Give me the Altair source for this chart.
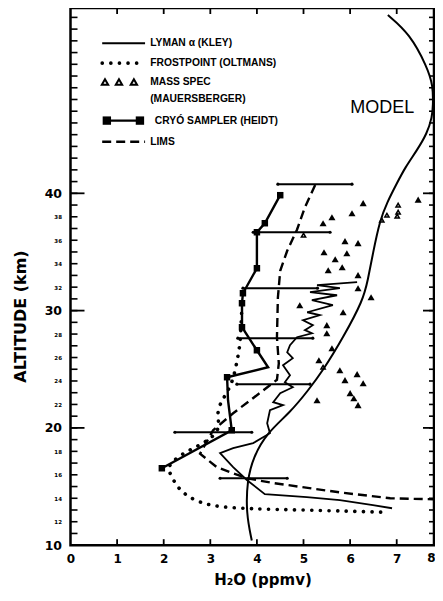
import altair as alt
import pandas as pd

# ------------------------------------------------------------------ data
model_alt = [55.2, 53.6, 50.8, 49.2, 47.5, 46.5, 45.1, 43.7, 42.2, 40.9, 39.2, 37.7, 34.9, 32.6, 30.9,
             27.7, 24.9, 23.2, 21.3, 19.6, 17.5, 15.5, 12.7, 10.4]
model_h2o = [6.81, 7.28, 7.65, 7.78, 7.78, 7.76, 7.65, 7.44, 7.18, 7.01, 6.79, 6.64, 6.49, 6.38, 6.28,
             5.85, 5.42, 5.10, 4.71, 4.22, 3.92, 3.79, 3.77, 3.89]

lyman_alt = [32.42, 32.17, 31.91, 31.57, 31.31, 30.89, 30.46, 29.86, 29.61, 29.18, 28.76, 28.33, 28.07,
             27.73, 27.05, 26.45, 25.94, 25.35, 24.49, 23.90, 23.47, 22.96, 22.19, 21.94, 21.51, 20.40,
             19.55, 18.70, 18.27, 17.84, 16.65, 15.54, 14.35, 14.09, 13.84, 13.41, 13.15]
lyman_h2o = [6.15, 5.29, 5.78, 5.14, 5.72, 5.18, 5.63, 5.08, 5.35, 4.99, 5.20, 5.03, 5.18,
             4.86, 4.71, 4.65, 4.77, 4.56, 4.71, 4.60, 4.77, 4.50, 4.35, 4.56, 4.28, 4.22,
             4.28, 3.92, 3.49, 3.21, 3.49, 3.79, 4.17, 5.07, 5.78, 6.49, 6.90]

frost_alt = [30.5, 28.8, 27.1, 25.6, 24.1, 23.0, 22.1, 21.1, 20.1, 19.2, 18.4, 17.7, 16.7, 16.1, 14.9,
             14.0, 13.3, 13.1, 13.0, 12.9, 12.8]
frost_h2o = [3.68, 3.66, 3.64, 3.57, 3.49, 3.36, 3.21, 3.14, 3.21, 3.06, 2.71, 2.35, 2.07, 2.14, 2.29,
             2.56, 3.00, 3.85, 4.93, 6.00, 6.81]

lims_alt = [40.7, 38.8, 36.9, 35.1, 33.4, 31.1, 27.7, 25.5, 24.1, 23.0, 21.25, 19.8, 17.8, 16.65,
            15.7, 15.3, 14.5, 14.0, 13.9]
lims_h2o = [5.25, 5.03, 4.86, 4.65, 4.50, 4.45, 4.43, 4.47, 4.43, 4.07, 3.49, 3.06, 2.78, 3.14,
            3.79, 4.35, 5.78, 6.86, 7.93]

cryo_alt = [39.84, 37.45, 36.68, 33.61, 31.48, 30.63, 28.58, 26.62, 25.17, 24.32, 22.36, 19.80, 16.56]
cryo_h2o = [4.50, 4.17, 4.00, 4.00, 3.70, 3.68, 3.68, 4.00, 4.24, 3.36, 3.38, 3.46, 1.96]
cryo_square = [1, 1, 1, 1, 1, 1, 1, 1, 0, 1, 0, 1, 1]

bar_alt = [40.78, 36.68, 31.91, 27.65, 23.73, 19.63, 15.71]
bar_lo = [4.45, 3.92, 3.70, 3.59, 3.57, 2.24, 3.21]
bar_hi = [6.04, 5.57, 5.30, 5.20, 5.14, 3.89, 4.65]

ms_alt = [39.16, 38.30, 37.96, 37.45, 39.46, 35.92, 35.75, 34.98, 34.89, 34.38, 33.70, 33.44, 33.02,
          31.91, 31.14, 30.46, 29.86, 28.76, 28.07, 26.79, 25.77, 24.92, 24.58, 24.07, 23.81, 22.96,
          22.53, 21.94, 22.36]
ms_h2o = [6.28, 6.04, 5.61, 5.42, 7.46, 5.89, 6.17, 5.44, 5.93, 5.68, 5.83, 5.53, 6.17,
          6.17, 6.45, 4.92, 5.85, 5.50, 5.50, 5.61, 5.33, 5.78, 6.15, 5.89, 6.28, 6.00,
          6.08, 6.17, 5.29]
ms_open_alt = [38.99, 38.39, 38.05, 38.13, 37.71, 25.17, 36.43]
ms_open_h2o = [7.03, 7.03, 7.01, 6.79, 6.68, 5.42, 5.00]

x_tick_values = [0, 1, 2, 3, 4, 5, 6, 7]
x_edge_label = [8]
y_label_values = list(range(10, 41, 2))

legend_labels = ["LYMAN α (KLEY)", "FROSTPOINT (OLTMANS)", "MASS SPEC", "(MAUERSBERGER)",
                 "CRYÓ SAMPLER (HEIDT)", "LIMS"]
model_label = ["MODEL"]

# ------------------------------------------------------------------ layout
W, H = 363.5, 537.2
XDOM, YDOM = [0, 7.80], [10, 55.8]
FONT = "DejaVu Sans"
LFONT = "Liberation Sans"

# legend placement (data units)
LEG_X0, LEG_X1 = 0.68, 1.60
LEG_ROWS = [52.8, 51.1, 49.5, 48.0, 46.2, 44.4]
LEG_TX_ROW = [1.71, 1.71, 1.71, 1.71, 1.81, 1.71]
LEG_TRI_X = [0.74, 1.04, 1.36]
LEG_SQ_X = [0.78, 1.49]
MODEL_POS = (6.69, 47.26)

xs = alt.Scale(domain=XDOM, nice=False, zero=False)
ys = alt.Scale(domain=YDOM, nice=False, zero=False)

x_axis = alt.Axis(values=x_tick_values, ticks=False, domain=False, grid=False,
                  labelFont=FONT, labelFontSize=12, labelFontWeight="bold", labelColor="black",
                  labelPadding=8, labelFlush=False, labelOverlap=False,
                  title="H₂O (ppmv)", titleFont=FONT, titleFontSize=15, titleFontWeight="bold",
                  titleColor="black", titleX=192, titleY=34, titleBaseline="middle",
                  titleAnchor="middle", titleAlign="center")
y_axis = alt.Axis(values=y_label_values, ticks=False, domain=False, grid=False,
                  labelFont=FONT,
                  labelFontSize={"condition": {"test": "datum.value % 10 === 0", "value": 12.5}, "value": 5.5},
                  labelFontWeight="bold", labelColor="black", labelPadding=9,
                  labelFlush=False, labelOverlap=False,
                  title="ALTITUDE (km)", titleFont=FONT, titleFontSize=16, titleFontWeight="bold",
                  titleColor="black", titleX=-50, titleY=308, titleBaseline="middle",
                  titleAnchor="middle", titleAlign="center", titleAngle=270)


def X(f="h2o"):
    return alt.X(f"{f}:Q", scale=xs, axis=x_axis)


def Y(f="alt"):
    return alt.Y(f"{f}:Q", scale=ys, axis=y_axis)


def series(a, h):
    return pd.DataFrame({"alt": a, "h2o": h, "i": range(len(a))})


model_df = series(model_alt, model_h2o)
lyman_df = series(lyman_alt, lyman_h2o)
frost_df = series(frost_alt, frost_h2o)
lims_df = series(lims_alt, lims_h2o)
cryo_df = series(cryo_alt, cryo_h2o)
cryo_df["sq"] = cryo_square
bar_df = pd.DataFrame({"alt": bar_alt, "lo": bar_lo, "hi": bar_hi})
bar_ends = pd.DataFrame({"alt": bar_alt + bar_alt, "h2o": bar_lo + bar_hi})
ms_df = pd.DataFrame({"alt": ms_alt, "h2o": ms_h2o})
ms_open_df = pd.DataFrame({"alt": ms_open_alt, "h2o": ms_open_h2o})

# ------------------------------------------------------------------ ticks (inward)
minor_y = pd.DataFrame({"alt": [v for v in range(11, 56)]})
major_y = pd.DataFrame({"alt": [20, 30, 40]})
x_ticks = pd.DataFrame({"h2o": [1, 2, 3, 4, 5, 6, 7]})

ticks = [
    alt.Chart(minor_y).mark_rule(color="black", strokeWidth=1.6).encode(
        y=Y(), x=alt.value(0), x2=alt.value(7)),
    alt.Chart(major_y).mark_rule(color="black", strokeWidth=1.8).encode(
        y=Y(), x=alt.value(0), x2=alt.value(14)),
    alt.Chart(minor_y).mark_rule(color="black", strokeWidth=1.6).encode(
        y=Y(), x=alt.value(W), x2=alt.value(W - 5)),
    alt.Chart(major_y).mark_rule(color="black", strokeWidth=1.8).encode(
        y=Y(), x=alt.value(W), x2=alt.value(W - 11)),
    alt.Chart(x_ticks).mark_rule(color="black", strokeWidth=1.8).encode(
        x=X(), y=alt.value(H), y2=alt.value(H - 6)),
    alt.Chart(x_ticks).mark_rule(color="black", strokeWidth=1.8).encode(
        x=X(), y=alt.value(0), y2=alt.value(6)),
    alt.Chart(pd.DataFrame({"h2o": x_edge_label, "t": [str(v) for v in x_edge_label]})).mark_text(
        font=FONT, fontSize=12, fontWeight="bold", baseline="top", align="center", color="black",
        dx=-12).encode(x=X(), y=alt.value(H + 8), text="t:N"),
]

# ------------------------------------------------------------------ data layers
layers = [
    alt.Chart(model_df).mark_line(color="black", strokeWidth=2, interpolate="basis").encode(
        x=X(), y=Y(), order="i:Q"),
    alt.Chart(frost_df).mark_line(color="black", strokeWidth=3.6, strokeDash=[0.1, 8.5],
                                  strokeCap="round", interpolate="basis").encode(
        x=X(), y=Y(), order="i:Q"),
    alt.Chart(lims_df).mark_line(color="black", strokeWidth=2.4, strokeDash=[9, 5], clip=True).encode(
        x=X(), y=Y(), order="i:Q"),
    alt.Chart(lyman_df).mark_line(color="black", strokeWidth=1.8).encode(
        x=X(), y=Y(), order="i:Q"),
    alt.Chart(bar_df).mark_rule(color="black", strokeWidth=2).encode(
        x=X("lo"), x2=alt.X2("hi:Q"), y=Y()),
    alt.Chart(bar_ends).mark_circle(color="black", size=10, opacity=1).encode(x=X(), y=Y()),
    alt.Chart(cryo_df).mark_line(color="black", strokeWidth=2.4).encode(
        x=X(), y=Y(), order="i:Q"),
    alt.Chart(cryo_df).transform_filter("datum.sq == 1").mark_square(
        color="black", size=42, opacity=1).encode(x=X(), y=Y()),
    alt.Chart(ms_df).mark_point(shape="triangle-up", filled=True, color="black", size=50,
                                opacity=1).encode(x=X(), y=Y()),
    alt.Chart(ms_open_df).mark_point(shape="triangle-up", filled=False, color="black", size=18,
                                     strokeWidth=1.5, opacity=1).encode(x=X(), y=Y()),
]

# ------------------------------------------------------------------ legend + annotation
def leg_line_df(row):
    return pd.DataFrame({"h2o": [LEG_X0, LEG_X1], "alt": [LEG_ROWS[row]] * 2})


legend = [
    alt.Chart(leg_line_df(0)).mark_line(color="black", strokeWidth=2).encode(x=X(), y=Y()),
    alt.Chart(leg_line_df(1)).mark_line(color="black", strokeWidth=3.6, strokeDash=[0.1, 8.5],
                                        strokeCap="round").encode(x=X(), y=Y()),
    alt.Chart(pd.DataFrame({"h2o": LEG_TRI_X, "alt": [LEG_ROWS[2]] * 3})).mark_point(
        shape="triangle-up", filled=False, color="black", size=40, strokeWidth=2, opacity=1).encode(
        x=X(), y=Y()),
    alt.Chart(pd.DataFrame({"h2o": LEG_SQ_X, "alt": [LEG_ROWS[4]] * 2})).mark_line(
        color="black", strokeWidth=2.4).encode(x=X(), y=Y()),
    alt.Chart(pd.DataFrame({"h2o": LEG_SQ_X, "alt": [LEG_ROWS[4]] * 2})).mark_square(
        color="black", size=70, opacity=1).encode(x=X(), y=Y()),
    alt.Chart(leg_line_df(5)).mark_line(color="black", strokeWidth=2.4, strokeDash=[9, 5]).encode(
        x=X(), y=Y()),
    alt.Chart(pd.DataFrame({"h2o": LEG_TX_ROW, "alt": LEG_ROWS, "t": legend_labels})).mark_text(
        font=LFONT, fontSize=10.3, fontWeight="bold", align="left", baseline="middle",
        color="black").encode(x=X(), y=Y(), text="t:N"),
    alt.Chart(pd.DataFrame({"h2o": [MODEL_POS[0]], "alt": [MODEL_POS[1]], "t": model_label})).mark_text(
        font=LFONT, fontSize=18, align="center", baseline="middle", color="black").encode(
        x=X(), y=Y(), text="t:N"),
]

chart = alt.layer(*ticks, *layers, *legend).properties(
    width=W, height=H,
    autosize=alt.AutoSizeParams(type="none"),
    padding={"left": 62.5, "top": 0, "right": 1, "bottom": 46.5},
    background="white",
).configure_view(stroke="black", strokeWidth=2.5)

chart.save("out.html", embed_options={"renderer": "svg", "actions": False})
